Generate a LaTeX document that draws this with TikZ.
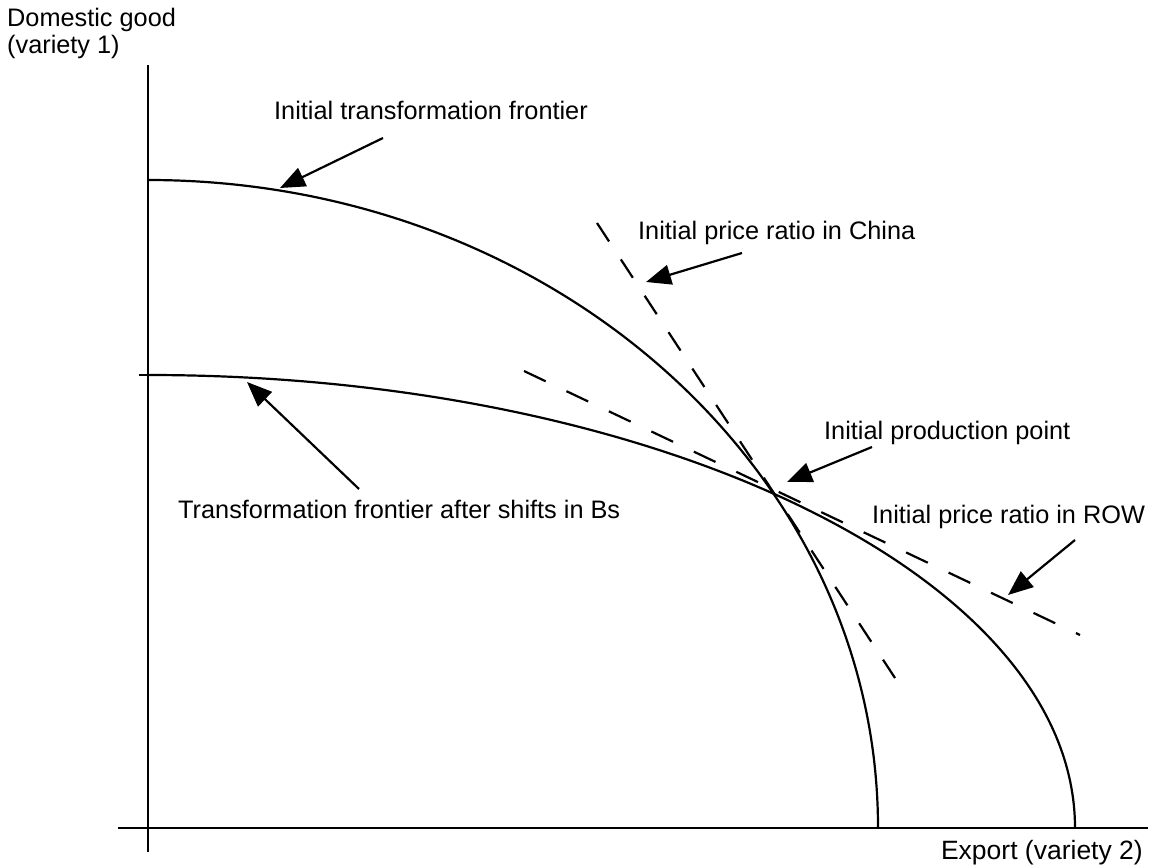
\documentclass[tikz,border=0pt]{standalone}
\usepackage{fontspec}
\setmainfont{Liberation Sans}
\usetikzlibrary{arrows.meta}
\begin{document}
\begin{tikzpicture}[x=1pt,y=-1pt,
  axisline/.style={line width=2.5pt},
  frontier/.style={line width=2.2pt},
  pricechina/.style={line width=2.2pt, dash pattern=on 22pt off 21.5pt},
  pricerow/.style={line width=2.2pt, dash pattern=on 24pt off 23pt},
  pointer/.style={line width=2.2pt, -{Triangle[length=25pt,width=20pt]}},
  lbl/.style={inner sep=0pt, anchor=base west, font=\fontsize{25.3}{28}\selectfont},
]
\useasboundingbox (0,0) rectangle (1151,867);
% axes
\coordinate (ytop) at (148,65);
\coordinate (ybot) at (148,852);
\coordinate (xleft) at (118,828);
\coordinate (xright) at (1148,828);
\draw[axisline] (ytop) -- (ybot);
\draw[axisline] (xleft) -- (xright);
% ticks
\coordinate (t1a) at (148,180);
\coordinate (t1b) at (158,180);
\coordinate (t2a) at (139,375);
\coordinate (t2b) at (148,375);
\draw[axisline] (t1a) -- (t1b);
\draw[axisline] (t2a) -- (t2b);
% frontiers
\draw[frontier] (t1a) arc[start angle=-90, end angle=0, x radius=730, y radius=648];
\draw[frontier] (t2b) arc[start angle=-90, end angle=0, x radius=927, y radius=453];
% price lines
\coordinate (chA) at (597,223);
\coordinate (chB) at (895,678);
\coordinate (rwA) at (524,371);
\coordinate (rwB) at (1080,635);
\draw[pricechina] (chA) -- (chB);
\draw[pricerow] (rwA) -- (rwB);
% labels
\node[lbl] (ly1) at (7,27) {Domestic good};
\node[lbl] (ly2) at (7,54) {(variety 1)};
\node[lbl, anchor=base east, font=\fontsize{26.5}{29}\selectfont] (lx) at (1143,859) {Export (variety 2)};
\node[lbl] (litf) at (274,119) {Initial transformation frontier};
\node[lbl] (ltfa) at (178,518) {Transformation frontier after shifts in Bs};
\node[lbl] (lchn) at (638,239) {Initial price ratio in China};
\node[lbl] (lipp) at (824,439) {Initial production point};
\node[lbl] (lrow) at (872,523) {Initial price ratio in ROW};
% arrows
\coordinate (a1s) at (383,138);
\coordinate (a1e) at (280,188);
\coordinate (a2s) at (359,489);
\coordinate (a2e) at (247,382);
\coordinate (a3s) at (742,253);
\coordinate (a3e) at (646,282);
\coordinate (a4s) at (872,447);
\coordinate (a4e) at (787,482);
\coordinate (a5s) at (1075,540);
\coordinate (a5e) at (1008,595);
\draw[pointer] (a1s) -- (a1e);
\draw[pointer] (a2s) -- (a2e);
\draw[pointer] (a3s) -- (a3e);
\draw[pointer] (a4s) -- (a4e);
\draw[pointer] (a5s) -- (a5e);
\end{tikzpicture}
\end{document}
